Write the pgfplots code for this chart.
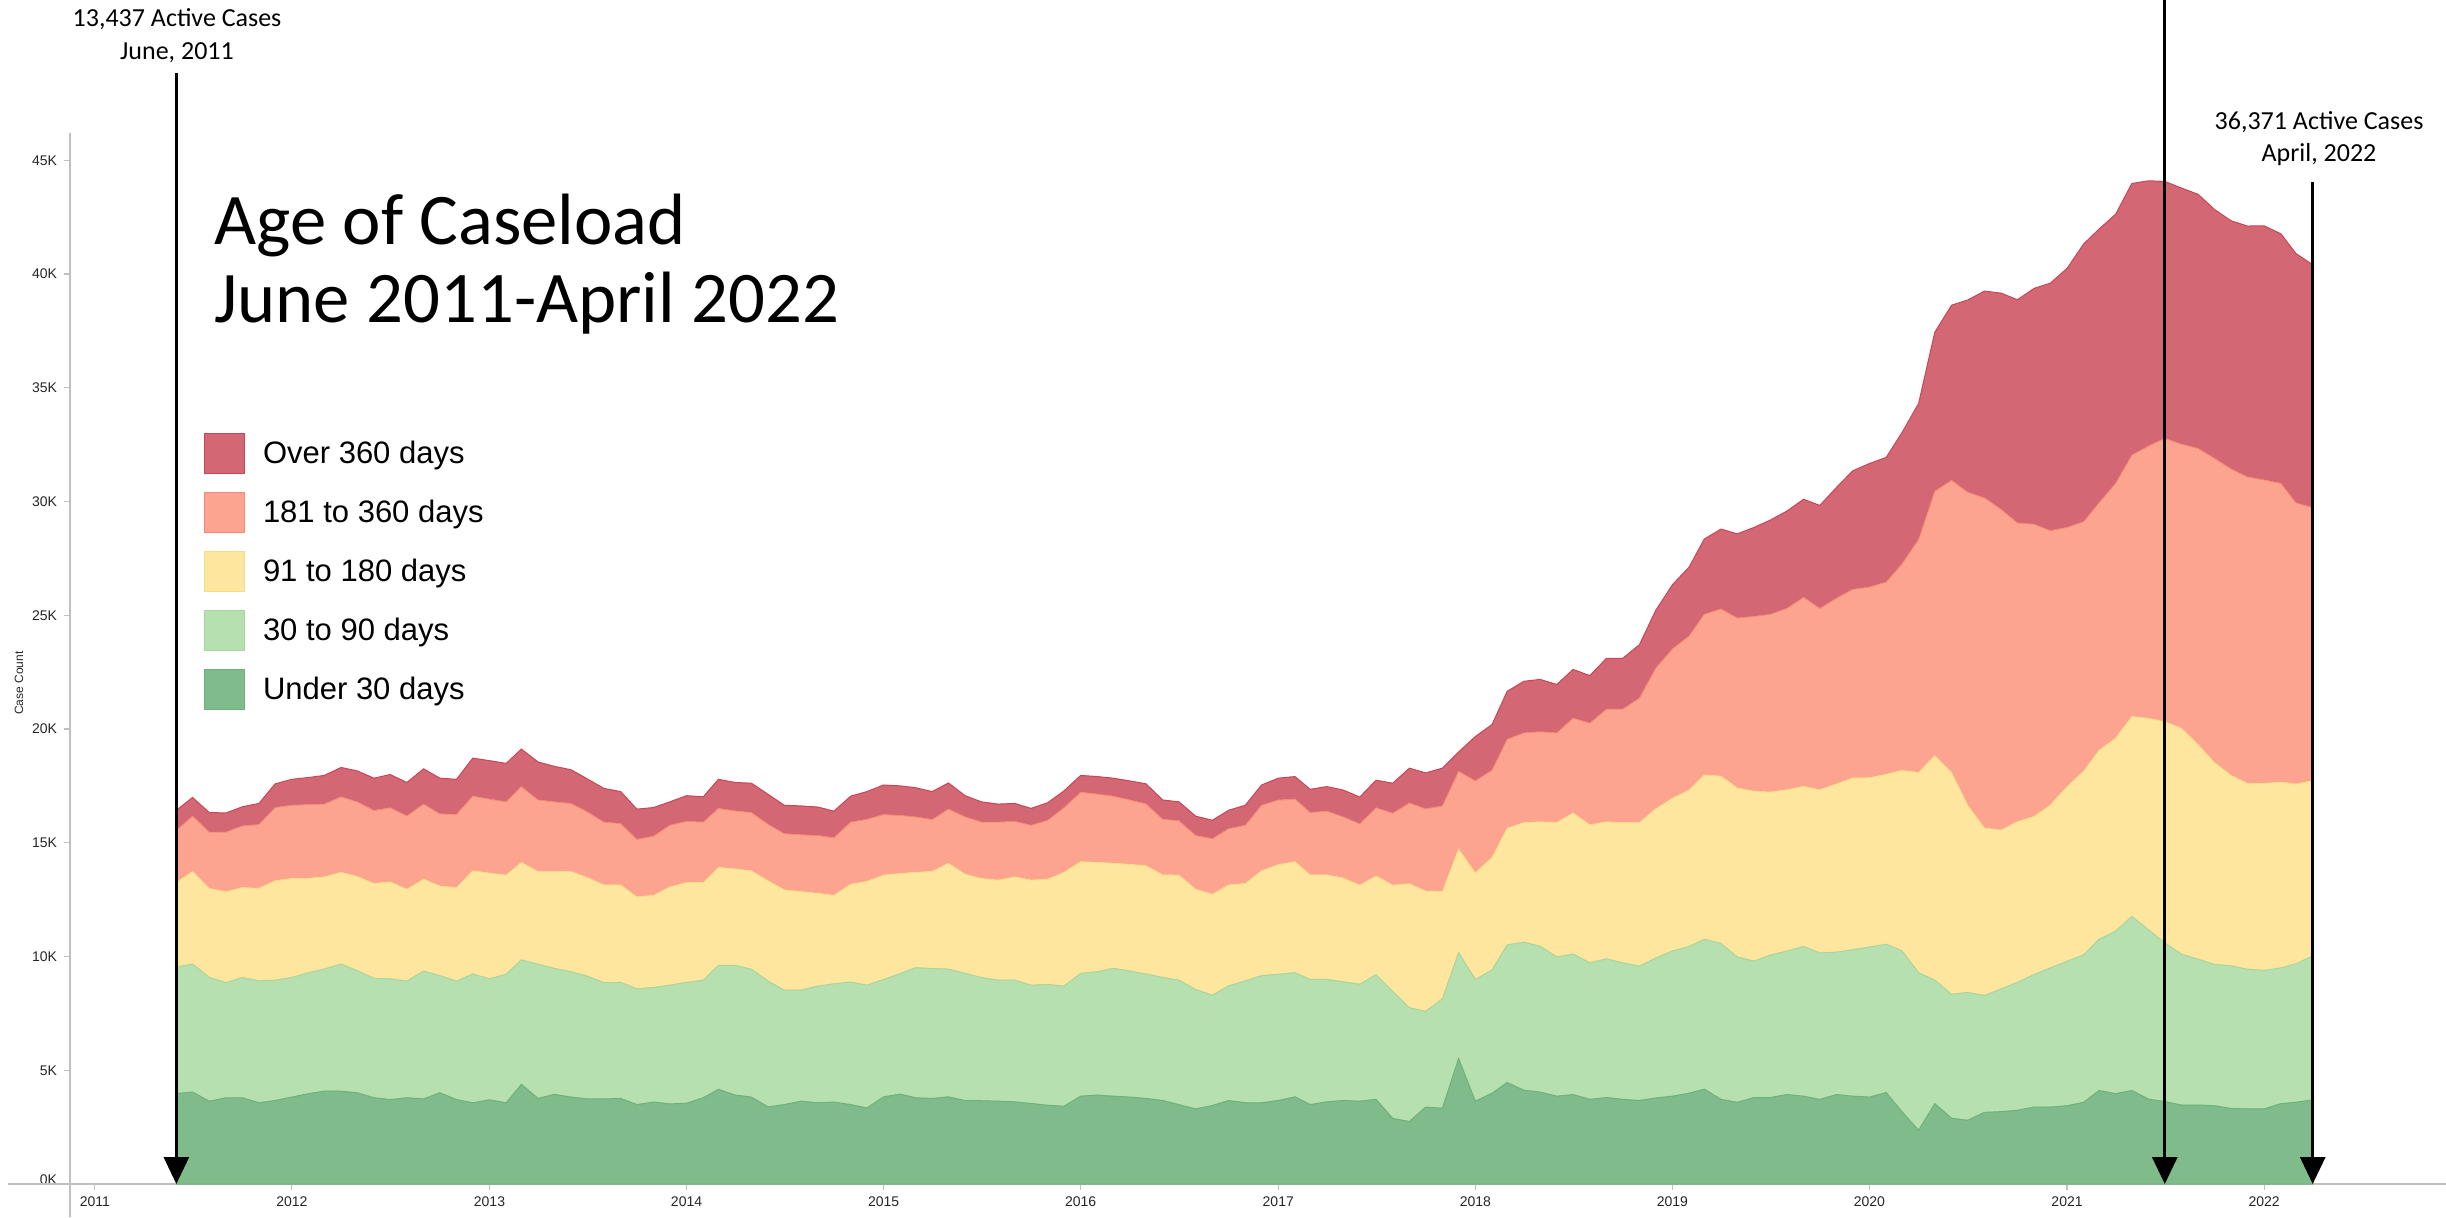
\documentclass[border=0pt]{standalone}
\usepackage{pgfplots}
\pgfplotsset{compat=1.18}
\usepackage{pgfplotstable}
\usepgfplotslibrary{dateplot}
\usetikzlibrary{arrows.meta}
\usepackage{fontspec}
\setmainfont{Liberation Sans}
\newfontfamily\calibri{Carlito}

\definecolor{cU30}{RGB}{128,188,139}
\definecolor{cU30d}{RGB}{112,176,124}
\definecolor{cNinety}{RGB}{183,224,176}
\definecolor{cNinetyd}{RGB}{168,214,160}
\definecolor{cOneEighty}{RGB}{254,230,158}
\definecolor{cOneEightyd}{RGB}{248,218,140}
\definecolor{cThreeSixty}{RGB}{253,164,145}
\definecolor{cThreeSixtyd}{RGB}{242,138,120}
\definecolor{cOver}{RGB}{211,104,116}
\definecolor{cOverd}{RGB}{196,72,88}
\definecolor{axgray}{RGB}{192,192,192}

% monthly case counts by age of case
\pgfplotstableread{
date u30 d90 d180 d360 over
2011-06-01 3980 5550 3720 2300 880
2011-07-01 4040 5630 4070 2430 820
2011-08-01 3640 5440 3910 2480 860
2011-09-01 3790 5060 4000 2620 840
2011-10-01 3790 5290 3950 2710 840
2011-11-01 3570 5360 4070 2800 930
2011-12-01 3670 5290 4370 3220 1040
2012-01-01 3820 5260 4350 3220 1140
2012-02-01 3970 5320 4150 3240 1190
2012-03-01 4080 5370 4050 3200 1260
2012-04-01 4080 5590 4030 3320 1290
2012-05-01 4010 5370 4140 3280 1360
2012-06-01 3790 5250 4170 3210 1420
2012-07-01 3710 5310 4260 3260 1460
2012-08-01 3790 5130 4040 3220 1470
2012-09-01 3740 5620 4040 3300 1550
2012-10-01 4010 5150 3940 3170 1570
2012-11-01 3710 5210 4110 3220 1540
2012-12-01 3570 5660 4540 3280 1670
2013-01-01 3700 5320 4650 3250 1690
2013-02-01 3570 5650 4360 3220 1690
2013-03-01 4380 5470 4290 3330 1650
2013-04-01 3760 5900 4070 3150 1670
2013-05-01 3940 5540 4250 3070 1560
2013-06-01 3820 5510 4410 2990 1480
2013-07-01 3740 5400 4330 2890 1450
2013-08-01 3740 5110 4300 2760 1480
2013-09-01 3760 5100 4290 2690 1410
2013-10-01 3490 5090 4040 2530 1330
2013-11-01 3600 5040 4050 2600 1260
2013-12-01 3520 5220 4320 2710 1030
2014-01-01 3550 5310 4390 2690 1130
2014-02-01 3790 5170 4290 2660 1110
2014-03-01 4160 5450 4310 2590 1280
2014-04-01 3910 5700 4240 2550 1250
2014-05-01 3820 5620 4330 2560 1290
2014-06-01 3390 5530 4410 2480 1320
2014-07-01 3490 5030 4410 2470 1250
2014-08-01 3640 4880 4330 2500 1270
2014-09-01 3570 5130 4080 2540 1250
2014-10-01 3600 5200 3890 2530 1170
2014-11-01 3490 5390 4300 2730 1140
2014-12-01 3340 5400 4560 2730 1220
2015-01-01 3830 5160 4590 2660 1300
2015-02-01 3950 5300 4400 2550 1300
2015-03-01 3790 5720 4190 2440 1280
2015-04-01 3760 5710 4270 2280 1230
2015-05-01 3830 5620 4650 2380 1150
2015-06-01 3670 5590 4360 2520 930
2015-07-01 3660 5420 4350 2480 890
2015-08-01 3640 5320 4400 2550 790
2015-09-01 3610 5350 4540 2440 790
2015-10-01 3540 5200 4620 2410 740
2015-11-01 3460 5310 4630 2590 770
2015-12-01 3420 5280 5000 2840 740
2016-01-01 3860 5400 4910 3050 740
2016-02-01 3910 5420 4810 3000 770
2016-03-01 3860 5620 4620 2950 790
2016-04-01 3820 5540 4690 2830 840
2016-05-01 3760 5470 4760 2720 880
2016-06-01 3670 5410 4510 2440 850
2016-07-01 3490 5470 4620 2390 830
2016-08-01 3300 5250 4410 2360 850
2016-09-01 3450 4850 4440 2440 810
2016-10-01 3670 5040 4440 2470 810
2016-11-01 3570 5360 4280 2560 880
2016-12-01 3570 5590 4610 2880 890
2017-01-01 3670 5550 4820 2840 960
2017-02-01 3830 5460 4880 2750 990
2017-03-01 3490 5500 4600 2740 1020
2017-04-01 3610 5380 4600 2800 1080
2017-05-01 3670 5220 4560 2690 1180
2017-06-01 3640 5140 4360 2690 1180
2017-07-01 3720 5480 4340 3000 1210
2017-08-01 2880 5580 4680 3160 1320
2017-09-01 2750 5000 5450 3550 1530
2017-10-01 3380 4210 5290 3610 1580
2017-11-01 3330 4810 4720 3760 1660
2017-12-01 5510 4660 4550 3420 850
2018-01-01 3640 5350 4690 4040 1950
2018-02-01 3990 5420 4950 3830 2010
2018-03-01 4460 6050 5130 3910 2110
2018-04-01 4120 6510 5260 3940 2270
2018-05-01 4040 6410 5470 3960 2300
2018-06-01 3860 6120 5910 3940 2130
2018-07-01 3930 6180 6200 4170 2140
2018-08-01 3720 6000 6070 4470 2090
2018-09-01 3800 6100 6020 4950 2240
2018-10-01 3720 6000 6170 4980 2240
2018-11-01 3670 5910 6310 5470 2350
2018-12-01 3780 6150 6560 6180 2540
2019-01-01 3860 6380 6720 6560 2820
2019-02-01 3990 6450 6880 6770 3030
2019-03-01 4170 6590 7220 7060 3310
2019-04-01 3720 6850 7360 7350 3510
2019-05-01 3590 6390 7430 7470 3700
2019-06-01 3800 6000 7470 7680 3910
2019-07-01 3800 6260 7170 7810 4140
2019-08-01 3930 6310 7090 7970 4280
2019-09-01 3860 6580 7040 8310 4310
2019-10-01 3720 6440 7170 7970 4530
2019-11-01 3930 6260 7400 8160 4870
2019-12-01 3860 6440 7550 8290 5210
2020-01-01 3820 6600 7440 8380 5430
2020-02-01 4020 6520 7470 8450 5480
2020-03-01 3180 7070 7930 9070 5770
2020-04-01 2360 6930 8800 10240 5980
2020-05-01 3530 5430 9870 11620 6990
2020-06-01 2890 5450 9750 12840 7700
2020-07-01 2800 5620 8230 13760 8450
2020-08-01 3150 5140 7360 14510 9090
2020-09-01 3180 5400 6980 14090 9510
2020-10-01 3240 5620 7070 13130 9810
2020-11-01 3380 5830 6950 12840 10370
2020-12-01 3380 6120 7160 12060 10880
2021-01-01 3440 6350 7680 11390 11390
2021-02-01 3590 6490 8080 10960 12210
2021-03-01 4110 6640 8310 10880 12030
2021-04-01 3970 7150 8480 11200 11830
2021-05-01 4110 7650 8790 11490 11940
2021-06-01 3730 7440 9300 11970 11660
2021-07-01 3620 6980 9720 12460 11290
2021-08-01 3470 6630 9930 12490 11260
2021-09-01 3470 6410 9430 13020 11170
2021-10-01 3440 6210 8880 13370 10940
2021-11-01 3320 6270 8370 13470 10910
2021-12-01 3300 6140 8170 13470 11030
2022-01-01 3300 6090 8220 13340 11170
2022-02-01 3530 5970 8170 13130 10970
2022-03-01 3590 6090 7900 12360 10960
2022-04-01 3700 6330 7700 12000 10680
}\caseload

\begin{document}
\begin{tikzpicture}
\useasboundingbox (0,0) rectangle (1223pt,608.5pt);
\begin{axis}[
  at={(35pt,16.5pt)}, anchor=south west,
  scale only axis, width=1188pt, height=525.5pt,
  date coordinates in=x, date ZERO=2011-01-01,
  xmin=2010-11-16, xmax=2022-12-04,
  ymin=0, ymax=46200,
  scaled y ticks=false,
  stack plots=y,
  clip=false,
  axis x line=bottom, axis y line=left,
  axis line style={axgray, line width=0.75pt, -},
  tick style={axgray, line width=0.6pt},
  tick align=outside,
  major tick length=3pt, minor tick length=1.6pt,
  xtick={2011-01-01,2012-01-01,2013-01-01,2014-01-01,2015-01-01,2016-01-01,2017-01-01,2018-01-01,2019-01-01,2020-01-01,2021-01-01,2022-01-01},
  xticklabel={\year},
  minor x tick num=23,
  ytick={0,5000,10000,15000,20000,25000,30000,35000,40000,45000},
  yticklabels={\raisebox{4.5pt}{0K},5K,10K,15K,20K,25K,30K,35K,40K,45K},
  minor y tick num=0,
  xticklabel style={font=\fontsize{7}{8}\selectfont, text=black!85},
  yticklabel style={font=\fontsize{7}{8}\selectfont, text=black!85},
  legend image code/.code={\fill[#1] (0pt,-10pt) rectangle (20pt,10pt);},
  reverse legend,
  legend cell align=left,
  legend style={at={(0.0564,0.7146)}, anchor=north west, draw=none, fill=none,
    inner sep=0pt, outer sep=0pt, row sep=9pt, column sep=9pt,
    nodes={inner sep=0pt},
    font=\fontsize{15.5}{18}\selectfont},
]
\addplot[fill=cU30, draw=cU30d, line width=0.5pt] table[x=date, y=u30] {\caseload} \closedcycle;
\addlegendentry{Under 30 days}
\addplot[fill=cNinety, draw=cNinetyd, line width=0.5pt] table[x=date, y=d90] {\caseload} \closedcycle;
\addlegendentry{30 to 90 days}
\addplot[fill=cOneEighty, draw=cOneEightyd, line width=0.5pt] table[x=date, y=d180] {\caseload} \closedcycle;
\addlegendentry{91 to 180 days}
\addplot[fill=cThreeSixty, draw=cThreeSixtyd, line width=0.5pt] table[x=date, y=d360] {\caseload} \closedcycle;
\addlegendentry{181 to 360 days}
\addplot[fill=cOver, draw=cOverd, line width=0.5pt] table[x=date, y=over] {\caseload} \closedcycle;
\addlegendentry{Over 360 days}

\coordinate (A1t) at (axis cs:2011-06-01,48840);
\coordinate (A1b) at (axis cs:2011-06-01,0);
\coordinate (A2t) at (axis cs:2021-07-01,52100);
\coordinate (A2b) at (axis cs:2021-07-01,0);
\coordinate (A3t) at (axis cs:2022-04-01,44040);
\coordinate (A3b) at (axis cs:2022-04-01,0);
\end{axis}

\draw[line width=1.5pt, -{Triangle[width=12.5pt,length=13.5pt]}] (A1t) -- (A1b);
\draw[line width=1.5pt, -{Triangle[width=12.5pt,length=13.5pt]}] (A2t) -- (A2b);
\draw[line width=1.5pt, -{Triangle[width=12.5pt,length=13.5pt]}] (A3t) -- (A3b);

\draw[axgray, line width=0.75pt] (4pt,16.5pt) -- (35pt,16.5pt);
\draw[axgray, line width=0.75pt] (35pt,16.5pt) -- (35pt,0pt);

\node[rotate=90, font=\fontsize{6}{7}\selectfont, text=black!85] at (9.5pt,267pt) {Case Count};

\node[anchor=base west, inner sep=0pt, font=\calibri\fontsize{36.35}{40}\selectfont] at (107pt,486pt) {Age of Caseload};
\node[anchor=base west, inner sep=0pt, font=\calibri\fontsize{36.35}{40}\selectfont] at (107pt,447pt) {June 2011-April 2022};

\node[anchor=base, inner sep=0pt, font=\calibri\fontsize{13}{15}\selectfont] at (88.5pt,595.2pt) {13,437 Active Cases};
\node[anchor=base, inner sep=0pt, font=\calibri\fontsize{13}{15}\selectfont] at (88.5pt,578.9pt) {June, 2011};
\node[anchor=base, inner sep=0pt, font=\calibri\fontsize{13}{15}\selectfont] at (1159.5pt,543.5pt) {36,371 Active Cases};
\node[anchor=base, inner sep=0pt, font=\calibri\fontsize{13}{15}\selectfont] at (1159.5pt,527.5pt) {April, 2022};
\end{tikzpicture}
\end{document}
